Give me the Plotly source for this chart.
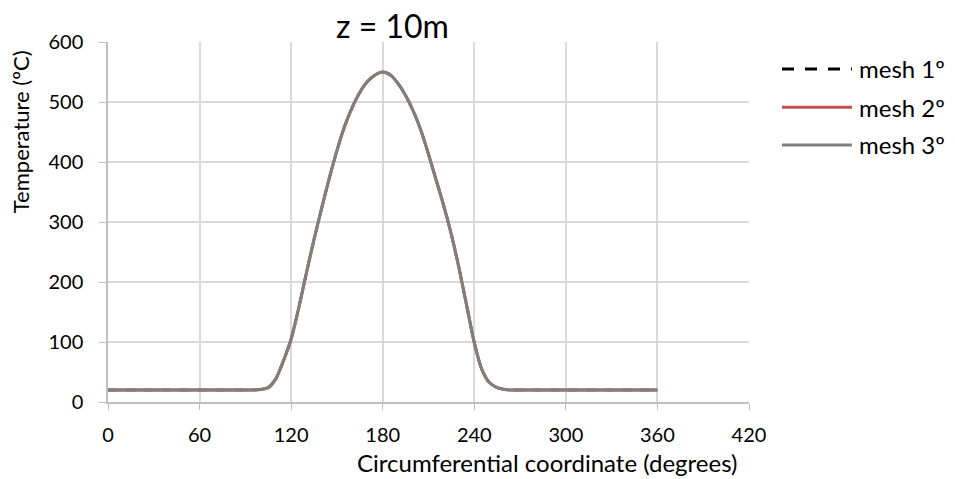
import plotly.graph_objects as go

# circumferential coordinate (degrees)
angle = [0, 10, 20, 30, 40, 50, 60, 70, 80, 90, 95, 100, 105, 110, 115, 120, 125, 130,
         135, 140, 145, 150, 155, 160, 165, 170, 175, 180, 185, 190, 195, 200, 205, 210,
         215, 220, 225, 230, 235, 240, 245, 250, 255, 260, 265, 270, 280, 290, 300, 310,
         320, 330, 340, 350, 360]

# temperature (C), the three meshes overlap
mesh1 = [20, 20, 20, 20, 20, 20, 20, 20, 20, 20, 20, 21, 24, 39, 69, 105, 157, 215,
         271, 323, 373, 419, 459, 491, 516, 534, 545, 550, 545, 531, 511, 485, 453, 413,
         370, 327, 279, 223, 161, 99, 54, 32, 24, 21, 20, 20, 20, 20, 20, 20,
         20, 20, 20, 20, 20]
mesh2 = list(mesh1)
mesh3 = list(mesh1)

names = ["mesh 1º", "mesh 2º", "mesh 3º"]
colors = ["black", "#C0504D", "#7F7F7F"]
dashes = ["12px,11px", "solid", "solid"]

font = "Lato"

fig = go.Figure()
for ys, name, color, dash in zip([mesh1, mesh2, mesh3], names, colors, dashes):
    fig.add_trace(go.Scatter(x=angle, y=ys, name=name, mode="lines", showlegend=False,
                             line=dict(color=color, width=3 if color != "black" else 2.5,
                                       dash="dash" if dash != "solid" else "solid",
                                       shape="spline", smoothing=0.8)))

# legend drawn by hand on the right, Excel style (long line samples)
legend_y = [0.925, 0.819, 0.714]
shapes = []
annotations = []
for ly, name, color, dash in zip(legend_y, names, colors, dashes):
    shapes.append(dict(type="line", xref="paper", yref="paper", x0=1.0515, x1=1.1606,
                       y0=ly, y1=ly, line=dict(color=color, width=3, dash=dash)))
    annotations.append(dict(text=name, xref="paper", yref="paper", x=1.1684, y=ly,
                            xanchor="left", yanchor="middle", showarrow=False,
                            font=dict(size=24)))

annotations += [
    dict(text="z = 10m", xref="paper", yref="paper", x=0.4434, y=1.047,
         xanchor="center", yanchor="middle", showarrow=False, font=dict(size=32)),
    dict(text="Circumferential coordinate (degrees)", xref="paper", yref="paper",
         x=0.685, y=-0.169, xanchor="center", yanchor="middle", showarrow=False,
         font=dict(size=24)),
    dict(text="Temperature (ºC)", xref="paper", yref="paper", textangle=-90,
         x=-0.137, y=0.75, xanchor="center", yanchor="middle", showarrow=False,
         font=dict(size=22)),
]

# the page body keeps an 8px margin, so the figure is 8px smaller
fig.update_layout(
    width=947, height=471,
    margin=dict(l=99.6, r=206, t=34, b=77),
    paper_bgcolor="white", plot_bgcolor="white",
    font=dict(family=font, size=20, color="black"),
    xaxis=dict(range=[0, 420], tickvals=[0, 60, 120, 180, 240, 300, 360, 420],
               showgrid=True, gridcolor="#D9D9D9", gridwidth=1.5,
               showline=True, linecolor="#BFBFBF", linewidth=1.5, ticklabelstandoff=8,
               ticks="outside", ticklen=6, tickcolor="#BFBFBF", zeroline=False),
    yaxis=dict(range=[0, 600], tickvals=[0, 100, 200, 300, 400, 500, 600],
               showgrid=True, gridcolor="#D9D9D9", gridwidth=1.5,
               showline=True, linecolor="#BFBFBF", linewidth=1.5, ticklabelstandoff=12,
               ticks="outside", ticklen=7, tickcolor="#BFBFBF", zeroline=False),
    shapes=shapes,
    annotations=annotations,
)

fig.write_html("out.html")
